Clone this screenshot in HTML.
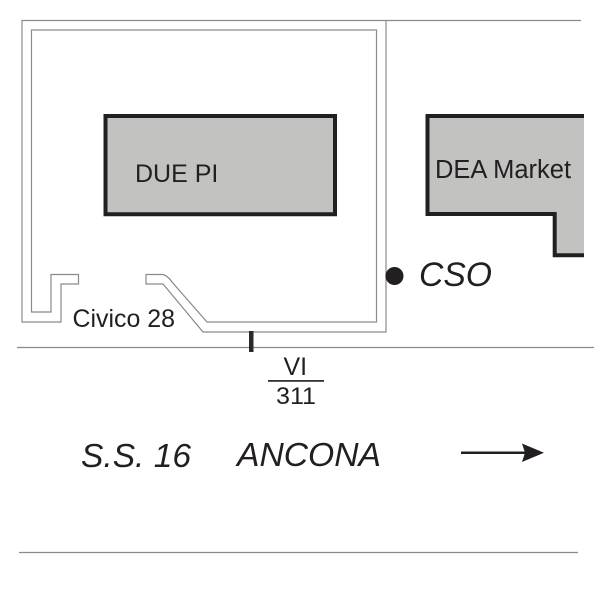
<!DOCTYPE html>
<html>
<head>
<meta charset="utf-8">
<style>
html,body{margin:0;padding:0;background:#fff;}
svg{display:block;}
text{font-family:"Liberation Sans",sans-serif;fill:#231f20;}
</style>
</head>
<body>
<svg width="600" height="600" viewBox="0 0 600 600" xmlns="http://www.w3.org/2000/svg">
<rect width="600" height="600" fill="#fff"/>
<g fill="none" stroke="#8a8a8a" stroke-width="1.2">
<path d="M386 20.5H581"/>
<path d="M17 347.500H594"/>
<path d="M19 552.500H578"/>
<path d="M146 284H163L203 332H386V20.500H22V322H61V284H78.500V274.500H51V312H31.500V30H376.500V322H207L172 282Q168 276 163 274.500H146Z"/>
</g>
<path d="M105.500 116H335V214.300H105.500Z" fill="#c2c2c0" stroke="#231f20" stroke-width="4"/>
<path d="M584 116H427.500V214H554.700V255.200H584Z" fill="#c2c2c0" stroke="none"/>
<path d="M584 116H427.500V214H554.700V255.200H584" fill="none" stroke="#231f20" stroke-width="4"/>
<rect x="249" y="331" width="4.500" height="21" fill="#2a2a28"/>
<rect x="268" y="380" width="56" height="1.800" fill="#333"/>
<circle cx="394.500" cy="276" r="9" fill="#231f20"/>
<path d="M461 452.800H526" stroke="#231f20" stroke-width="2.500"/>
<path d="M522 443.500L544 452.800L522 462L525 452.800Z" fill="#231f20"/>
<text x="135" y="182" font-size="25">DUE PI</text>
<text x="435" y="178" font-size="25.500">DEA Market</text>
<text x="72.500" y="327" font-size="25" textLength="102.500" lengthAdjust="spacingAndGlyphs">Civico 28</text>
<text x="419" y="286" font-size="34" font-style="italic" textLength="73" lengthAdjust="spacingAndGlyphs">CSO</text>
<text x="283.500" y="375" font-size="25">VI</text>
<text x="276" y="404" font-size="24.500" textLength="40" lengthAdjust="spacingAndGlyphs">311</text>
<text x="81" y="467" font-size="33.500" font-style="italic" textLength="110" lengthAdjust="spacingAndGlyphs">S.S. 16</text>
<text x="237" y="466" font-size="33.500" font-style="italic" textLength="144" lengthAdjust="spacingAndGlyphs">ANCONA</text>
</svg>
</body>
</html>
